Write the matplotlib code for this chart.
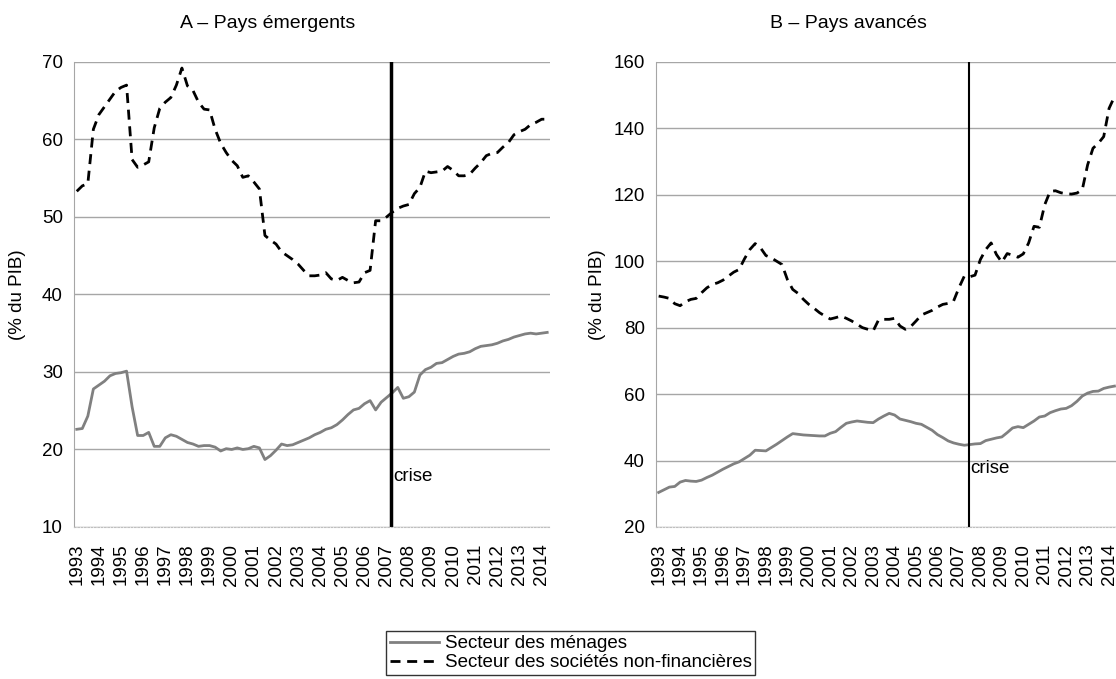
import matplotlib
matplotlib.use("Agg")
import matplotlib.pyplot as plt
from matplotlib.lines import Line2D

plt.rcParams['font.family'] = ['Liberation Sans', 'DejaVu Sans']

# quarterly values, 1993Q1 onwards (% du PIB)
years = list(range(1993, 2015))

menages_emergents = [
    22.6, 22.7, 24.3, 27.8, 28.3, 28.8, 29.5, 29.8, 29.9, 30.1,
    25.5, 21.8, 21.8, 22.2, 20.4, 20.4, 21.5, 21.9, 21.7, 21.3,
    20.9, 20.7, 20.4, 20.5, 20.5, 20.3, 19.8, 20.1, 20.0, 20.2,
    20.0, 20.1, 20.4, 20.2, 18.7, 19.2, 19.9, 20.7, 20.5, 20.6,
    20.9, 21.2, 21.5, 21.9, 22.2, 22.6, 22.8, 23.2, 23.8, 24.5,
    25.1, 25.3, 25.9, 26.3, 25.1, 26.1, 26.7, 27.3, 28.0, 26.6,
    26.8, 27.4, 29.6, 30.3, 30.6, 31.1, 31.2, 31.6, 32.0, 32.3,
    32.4, 32.6, 33.0, 33.3, 33.4, 33.5, 33.7, 34.0, 34.2, 34.5,
    34.7, 34.9, 35.0, 34.9, 35.0, 35.1]

societes_emergents = [
    53.3, 54.0, 54.3, 61.3, 63.2, 64.2, 65.2, 66.2, 66.7, 67.0,
    57.4, 56.4, 56.7, 57.1, 61.5, 64.0, 64.8, 65.4, 67.0, 69.2,
    66.9, 66.3, 64.8, 63.9, 63.8, 61.3, 59.5, 58.3, 57.3, 56.6,
    55.1, 55.3, 54.5, 53.6, 47.6, 47.0, 46.5, 45.5, 45.0, 44.5,
    43.9, 43.1, 42.4, 42.4, 42.5, 42.8, 42.0, 41.8, 42.2, 41.8,
    41.5, 41.6, 42.8, 43.1, 49.5, 49.5, 50.0, 50.6, 51.1, 51.4,
    51.6, 53.0, 53.8, 55.9, 55.7, 55.8, 55.9, 56.5, 56.0, 55.3,
    55.3, 55.5, 56.3, 57.0, 57.9, 58.2, 58.3, 59.0, 59.6, 60.6,
    61.0, 61.3, 61.9, 62.2, 62.6, 62.6]

menages_avances = [
    30.4, 31.2, 32.0, 32.2, 33.5, 34.0, 33.8, 33.7, 34.1, 34.9,
    35.6, 36.5, 37.4, 38.2, 39.0, 39.6, 40.6, 41.6, 43.1, 43.0,
    42.9, 43.9, 44.9, 46.0, 47.1, 48.1, 47.9, 47.7, 47.6, 47.5,
    47.4, 47.4, 48.2, 48.7, 50.0, 51.2, 51.6, 51.9, 51.7, 51.5,
    51.4, 52.5, 53.4, 54.2, 53.7, 52.5, 52.1, 51.7, 51.2, 50.9,
    50.0, 49.1, 47.8, 46.9, 45.9, 45.3, 44.9, 44.6, 44.8, 45.0,
    45.1, 46.0, 46.4, 46.8, 47.1, 48.4, 49.8, 50.2, 49.9, 50.9,
    51.9, 53.1, 53.4, 54.4, 55.0, 55.5, 55.7, 56.5, 57.8, 59.4,
    60.3, 60.8, 60.9, 61.7, 62.1, 62.4]

societes_avances = [
    89.5, 89.2, 88.8, 87.2, 86.6, 87.8, 88.5, 88.8, 90.5, 92.0,
    93.0, 93.5, 94.3, 95.5, 96.7, 97.5, 100.7, 103.5, 105.3, 104.0,
    101.7, 101.0, 100.0, 99.0, 94.5, 91.5, 90.3, 88.5, 87.0, 85.8,
    84.5, 83.5, 82.6, 83.0, 83.5, 82.8, 82.0, 81.0, 80.0, 79.5,
    79.0, 82.3, 82.5, 82.5, 82.8, 80.5, 79.5, 80.3, 82.0, 83.8,
    84.5, 85.2, 86.2, 87.0, 87.3, 88.0, 92.0, 95.5, 95.3, 95.8,
    100.5, 103.5, 105.5, 102.0, 99.7, 102.3, 101.8, 101.2, 102.2, 105.5,
    110.5, 110.2, 117.0, 121.0, 121.2, 120.6, 120.3, 120.2, 120.5, 121.5,
    129.0, 134.0, 135.5, 137.5, 146.0, 149.5]

crise_a = 56.8
crise_b = 57.8

FS = 13.5
DASH = (3.6, 2.4)

fig = plt.figure(figsize=(11.16, 6.79), dpi=100)

def panel(rect, menages, societes, ymin, ymax, step, crise, crise_lw, crise_y, ylab_x):
    ax = fig.add_axes(rect)
    x = list(range(len(menages)))
    ax.plot(x, menages, color='#808080', lw=2, solid_joinstyle='round')
    ax.plot(x, societes, color='black', lw=2, dashes=DASH)
    ax.axvline(crise, color='black', lw=crise_lw)
    ax.text(crise + 0.3, crise_y, 'crise', fontsize=FS, va='center', ha='left')
    ax.set_xlim(-0.5, len(menages) - 0.5)
    ax.set_ylim(ymin, ymax)
    ax.set_yticks(range(ymin, ymax + 1, step))
    ax.set_xticks([4 * i for i in range(len(years))])
    ax.set_xticklabels([str(y) for y in years], rotation=90)
    ax.tick_params(length=0, labelsize=FS, pad=8)
    ax.tick_params(axis='x', pad=12)
    ax.grid(axis='y', color='#a6a6a6', lw=1)
    ax.set_axisbelow(True)
    for s in ['top', 'right']:
        ax.spines[s].set_visible(False)
    ax.spines['left'].set_color('#a6a6a6')
    ax.spines['bottom'].set_color('#bfbfbf')
    ax.spines['bottom'].set_linestyle((0, (1.5, 1.5)))
    ax.set_ylabel('(% du PIB)', fontsize=FS)
    ax.yaxis.set_label_coords(ylab_x, 0.5)
    return ax

ax1 = panel([0.0663, 0.2239, 0.4265, 0.685], menages_emergents, societes_emergents,
            10, 70, 10, crise_a, 2.5, 16.5, -0.100)
ax2 = panel([0.5878, 0.2239, 0.4132, 0.685], menages_avances, societes_avances,
            20, 160, 20, crise_b, 1.5, 37.5, -0.108)

fig.text(0.240, 0.965, 'A – Pays émergents', fontsize=14, ha='center', va='center')
fig.text(0.760, 0.965, 'B – Pays avancés', fontsize=14, ha='center', va='center')

handles = [Line2D([], [], color='#808080', lw=2),
           Line2D([], [], color='black', lw=2, dashes=DASH)]
leg = fig.legend(handles, ['Secteur des ménages', 'Secteur des sociétés non-financières'],
                 loc='upper center', bbox_to_anchor=(0.5115, 0.07), fontsize=FS,
                 frameon=True, fancybox=False, handlelength=2.6, handletextpad=0.3,
                 labelspacing=0.1, borderpad=0.2, borderaxespad=0)
leg.get_frame().set_edgecolor('black')
leg.get_frame().set_linewidth(1)

fig.savefig('out.png', dpi=100)
